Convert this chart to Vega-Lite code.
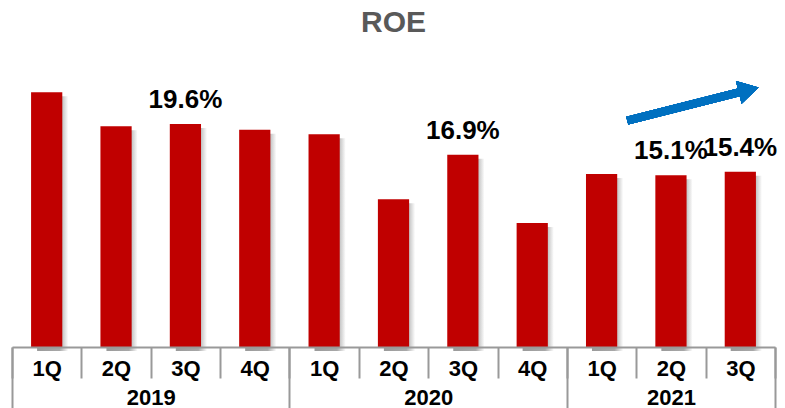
{
  "$schema": "https://vega.github.io/schema/vega-lite/v6.json",
  "width": 763,
  "height": 297,
  "autosize": "none",
  "padding": {"left": 12, "right": 10, "top": 50, "bottom": 61},
  "background": "white",
  "config": {"font": "Liberation Sans", "view": {"stroke": null}},
  "title": {"text": "ROE", "fontSize": 30, "fontWeight": "bold", "color": "#595959", "offset": 12, "anchor": "middle"},
  "data": {
    "values": [
      {"period": "2019-1Q", "value": 22.4},
      {"period": "2019-2Q", "value": 19.4},
      {"period": "2019-3Q", "value": 19.6, "label": "19.6%"},
      {"period": "2019-4Q", "value": 19.1},
      {"period": "2020-1Q", "value": 18.7},
      {"period": "2020-2Q", "value": 13.0},
      {"period": "2020-3Q", "value": 16.9, "label": "16.9%"},
      {"period": "2020-4Q", "value": 10.9},
      {"period": "2021-1Q", "value": 15.2},
      {"period": "2021-2Q", "value": 15.1, "label": "15.1%"},
      {"period": "2021-3Q", "value": 15.4, "label": "15.4%"}
    ]
  },
  "layer": [
    {
      "layer": [
        {
          "mark": {
            "type": "bar",
            "width": {"band": 0.45},
            "xOffset": 6,
            "yOffset": 4,
            "color": {
              "gradient": "linear", "x1": 0, "x2": 1, "y1": 0, "y2": 0,
              "stops": [
                {"offset": 0, "color": "#9a9a9a"},
                {"offset": 0.72, "color": "#a8a8a8"},
                {"offset": 1, "color": "#ffffff"}
              ]
            }
          },
          "encoding": {
            "x": {
              "field": "period", "type": "nominal", "sort": null,
              "scale": {"paddingInner": 0, "paddingOuter": 0},
              "axis": {
                "orient": "bottom", "title": null, "zindex": 1,
                "tickBand": "extent", "tickSize": 31, "tickColor": "#999999", "tickWidth": 2,
                "domainColor": "#999999", "domainWidth": 2,
                "labelExpr": "split(datum.value, '-')[1]",
                "labelFont": "Liberation Sans", "labelFontSize": 22, "labelFontWeight": "bold", "labelColor": "#000000",
                "labelBaseline": "alphabetic", "labelPadding": -3, "labelAngle": 0
              }
            },
            "y": {"field": "value", "type": "quantitative", "scale": {"domain": [0, 26.11], "nice": false, "zero": true}, "axis": null}
          }
        },
        {
          "mark": {"type": "bar", "width": {"band": 0.45}, "color": "#C00000"},
          "encoding": {
            "x": {"field": "period", "type": "nominal", "sort": null},
            "y": {"field": "value", "type": "quantitative"}
          }
        },
        {
          "transform": [{"filter": "datum.label != null"}],
          "mark": {"type": "text", "fontSize": 26, "fontWeight": "bold", "color": "#000000", "baseline": "alphabetic", "dy": -16},
          "encoding": {
            "x": {"field": "period", "type": "nominal", "sort": null},
            "y": {"field": "value", "type": "quantitative"},
            "text": {"field": "label"}
          }
        },
        {
          "mark": {"type": "rule", "color": "#0070C0", "strokeWidth": 8, "strokeCap": "butt"},
          "encoding": {
            "x": {"datum": "2021-1Q", "bandPosition": 0.87},
            "x2": {"datum": "2021-3Q", "bandPosition": 0.52},
            "y": {"datum": 19.9},
            "y2": {"datum": 22.45}
          }
        },
        {
          "mark": {"type": "point", "shape": "triangle-right", "filled": true, "color": "#0070C0", "opacity": 1, "size": 550, "angle": 346},
          "encoding": {
            "x": {"datum": "2021-3Q", "bandPosition": 0.62},
            "y": {"datum": 22.6}
          }
        }
      ]
    },
    {
      "mark": {"type": "point", "opacity": 0},
      "encoding": {
        "x": {
          "field": "period", "type": "nominal", "sort": null,
          "scale": {"paddingInner": 0, "paddingOuter": 0},
          "axis": {
            "orient": "bottom", "title": null, "zindex": 1, "domain": false,
            "tickBand": "extent", "tickSize": 61, "tickColor": "#999999", "tickWidth": 2,
            "tickOpacity": {"condition": {"test": "!datum.value || indexof(['2019-4Q','2020-4Q','2021-3Q'], datum.value) >= 0", "value": 1}, "value": 0},
            "labelExpr": "indexof(['2019-2Q','2020-2Q','2021-2Q'], datum.value) >= 0 ? slice(datum.value, 0, 4) : ''",
            "labelOffset": {"condition": {"test": "datum.value != '2021-2Q'", "value": 34.7}, "value": 0},
            "labelFont": "Liberation Sans", "labelFontSize": 22, "labelFontWeight": "bold", "labelColor": "#000000",
            "labelBaseline": "alphabetic", "labelPadding": -4, "labelAngle": 0
          }
        }
      }
    }
  ],
  "resolve": {"scale": {"x": "independent"}, "axis": {"x": "independent"}}
}
